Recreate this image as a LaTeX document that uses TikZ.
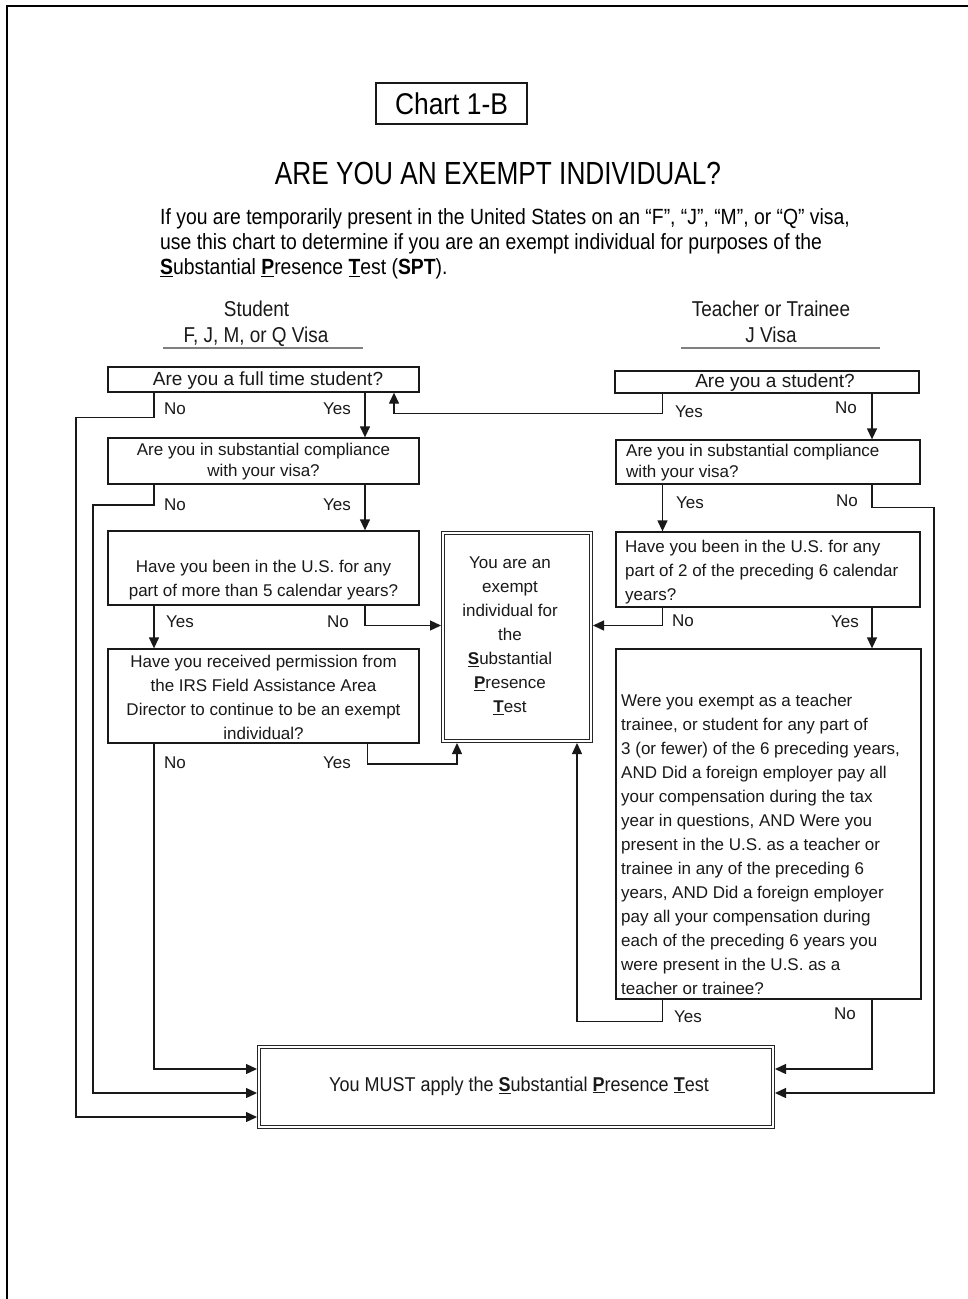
\documentclass[tikz,border=0pt]{standalone}
\usepackage{fontspec}
\setmainfont{Liberation Sans}
\newfontfamily\condA[FakeStretch=0.88]{Liberation Sans}
\newfontfamily\condT[FakeStretch=0.82]{Liberation Sans}
\newfontfamily\condB[FakeStretch=0.9]{Liberation Sans}
\usetikzlibrary{arrows.meta}
\newcommand{\ulb}[1]{\underline{\textbf{#1}}}
\begin{document}
\begin{tikzpicture}[x=1pt,y=-1pt,
  box/.style={draw=black!90, line width=1.3pt, inner sep=0pt},
  dbox/.style={draw=black!85, double=white, double distance=2pt, line width=1.1pt, inner sep=0pt, outer sep=2.1pt},
  txt/.style={inner sep=0pt, font=\fontsize{17}{24}\selectfont, text=black!90},
  lab/.style={inner sep=0pt, font=\fontsize{17}{20}\selectfont, text=black!90, text height=12.2pt, text depth=0pt},
  hdr/.style={inner sep=0pt, font=\condA\fontsize{21.5}{25}\selectfont, text=black!90, text height=15.4pt, text depth=0pt},
  arr/.style={line width=1.3pt, draw=black!90, -{Triangle[length=11pt,width=10pt]}},
  uline/.style={draw=black!50, line width=1.5pt}
]
\useasboundingbox (0,0) rectangle (968,1299);
\fill[white] (0,0) rectangle (968,1299);
% page border
\draw[line width=2.5pt, black] (7,1299) -- (7,6) -- (968,6);

% header
\node[box, minimum width=151pt, minimum height=41pt, font=\condA\fontsize{30}{36}\selectfont] (chart) at (451.5,103.5) {Chart 1-B};
\node[inner sep=0pt, font=\condT\fontsize{32}{38}\selectfont, text height=23pt, text depth=0pt] (title) at (498,173) {ARE YOU AN EXEMPT INDIVIDUAL?};
\node[anchor=west, align=left, inner sep=0pt, font=\condA\fontsize{22}{25}\selectfont] (intro) at (160,244)
  {If you are temporarily present in the United States on an “F”, “J”, “M”, or “Q” visa,\\
   use this chart to determine if you are an exempt individual for purposes of the\\
   \ulb{S}ubstantial \ulb{P}resence \ulb{T}est (\textbf{SPT}).};
\node[hdr] (stud) at (256.5,309) {Student};
\node[hdr] (studv) at (256,335) {F, J, M, or Q Visa};
\node[hdr] (teach) at (771,309) {Teacher or Trainee};
\node[hdr] (teachv) at (771,335) {J Visa};
\draw[uline] (163,348) -- (363,348);
\draw[uline] (681,348) -- (880,348);

% boxes
\node[box, minimum width=311pt, minimum height=25pt] (l1) at (263.5,379.5) {};
\node[box, minimum width=311pt, minimum height=46pt] (l2) at (263.5,461) {};
\node[box, minimum width=311pt, minimum height=74pt] (l3) at (263.5,568) {};
\node[box, minimum width=311pt, minimum height=94pt] (l4) at (263.5,696) {};
\node[box, minimum width=304pt, minimum height=22pt] (r1) at (767,382) {};
\node[box, minimum width=304pt, minimum height=44pt] (r2) at (768,462) {};
\node[box, minimum width=304pt, minimum height=75pt] (r3) at (768,569.5) {};
\node[box, minimum width=305pt, minimum height=350pt] (r4) at (768.5,824) {};
\node[dbox, minimum width=147.8pt, minimum height=207.8pt] (m) at (517,637) {};
\node[dbox, minimum width=513.8pt, minimum height=79.8pt] (b) at (516,1087) {};

% texts
\node[txt, font=\fontsize{19}{22}\selectfont] (l1t) at (268,380.5) {Are you a full time student?};
\node[txt, font=\fontsize{19}{22}\selectfont] (r1t) at (775,382.5) {Are you a student?};
\node[txt, align=center, font=\fontsize{17}{21}\selectfont] (l2t) at (263.5,462) {Are you in substantial compliance\\with your visa?};
\node[txt, align=left, anchor=west, font=\fontsize{17}{21}\selectfont] (r2t) at (626,462.5) {Are you in substantial compliance\\with your visa?};
\node[txt, align=center] (l3t) at (263.5,580) {Have you been in the U.S. for any\\part of more than 5 calendar years?};
\node[txt, align=left, anchor=west] (r3t) at (625,572) {Have you been in the U.S. for any\\part of 2 of the preceding 6 calendar\\years?};
\node[txt, align=center] (l4t) at (263.5,697.5) {Have you received permission from\\the IRS Field Assistance Area\\Director to continue to be an exempt\\individual?};
\node[txt, align=center] (mt) at (510,636) {You are an\\exempt\\individual for\\the\\\ulb{S}ubstantial\\\ulb{P}resence\\\ulb{T}est};
\node[txt, align=left, anchor=west] (r4t) at (621,844) {Were you exempt as a teacher\\trainee, or student for any part of\\3 (or fewer) of the 6 preceding years,\\AND Did a foreign employer pay all\\your compensation during the tax\\year in questions, AND Were you\\present in the U.S. as a teacher or\\trainee in any of the preceding 6\\years, AND Did a foreign employer\\pay all your compensation during\\each of the preceding 6 years you\\were present in the U.S. as a\\teacher or trainee?};
\node[txt, font=\condB\fontsize{20}{24}\selectfont] (bt) at (519,1086) {You MUST apply the \ulb{S}ubstantial \ulb{P}resence \ulb{T}est};

% labels
\node[lab] (l1no) at (175,408.5) {No};
\node[lab] (l1yes) at (337,408.5) {Yes};
\node[lab] (l2no) at (175,504) {No};
\node[lab] (l2yes) at (337,504) {Yes};
\node[lab] (l3yes) at (180,621) {Yes};
\node[lab] (l3no) at (338,621) {No};
\node[lab] (l4no) at (175,762) {No};
\node[lab] (l4yes) at (337,762) {Yes};
\node[lab] (r1yes) at (689,411) {Yes};
\node[lab] (r1no) at (846,407.5) {No};
\node[lab] (r2yes) at (690,502.5) {Yes};
\node[lab] (r2no) at (847,500) {No};
\node[lab] (r3no) at (683,620.5) {No};
\node[lab] (r3yes) at (845,621.5) {Yes};
\node[lab] (r4yes) at (688,1016.5) {Yes};
\node[lab] (r4no) at (845,1013.5) {No};

% routing coordinates
\coordinate (xA) at (365,0);
\coordinate (xA2) at (367.5,0);
\coordinate (xB) at (154,0);
\coordinate (xC) at (76,0);
\coordinate (xD) at (93,0);
\coordinate (xE) at (457,0);
\coordinate (xF) at (577,0);
\coordinate (xG) at (662.5,0);
\coordinate (xH) at (872,0);
\coordinate (xI) at (934,0);
\coordinate (xJ) at (394,0);
\coordinate (y1) at (0,417.5);
\coordinate (y2) at (0,413.5);
\coordinate (y3) at (0,505);
\coordinate (y4) at (0,507.5);
\coordinate (y5) at (0,625.5);
\coordinate (y6) at (0,764);
\coordinate (y7) at (0,1021.5);
\coordinate (yb1) at (0,1069);
\coordinate (yb2) at (0,1093);
\coordinate (yb3) at (0,1117);

% connectors
\draw[arr] (l1.south -| xA) -- (l2.north -| xA);
\draw[arr] (l2.south -| xA) -- (l3.north -| xA);
\draw[arr] (l3.south -| xB) -- (l4.north -| xB);
\draw[arr] (l3.south -| xA) |- (m.west |- y5);
\draw[arr] (l4.south -| xA2) |- (xE |- y6) -- (m.south -| xE);
\draw[arr] (l4.south -| xB) |- (b.west |- yb1);
\draw[arr] (l2.south -| xB) |- (xD |- y3) |- (b.west |- yb2);
\draw[arr] (l1.south -| xB) |- (xC |- y1) |- (b.west |- yb3);
\draw[arr] (r1.south -| xG) |- (xJ |- y2) -- (l1.south -| xJ);
\draw[arr] (r1.south -| xH) -- (r2.north -| xH);
\draw[arr] (r2.south -| xG) -- (r3.north -| xG);
\draw[arr] (r2.south -| xH) |- (xI |- y4) |- (b.east |- yb2);
\draw[arr] (r3.south -| xG) |- (m.east |- y5);
\draw[arr] (r3.south -| xH) -- (r4.north -| xH);
\draw[arr] (r4.south -| xG) |- (xF |- y7) -- (m.south -| xF);
\draw[arr] (r4.south -| xH) |- (b.east |- yb1);
\end{tikzpicture}
\end{document}
